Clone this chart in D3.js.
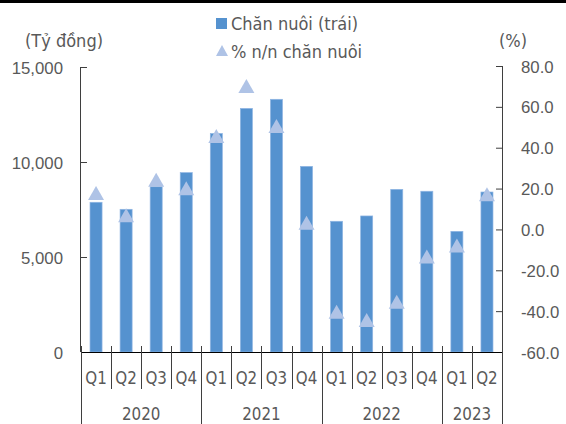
<!DOCTYPE html>
<html>
<head>
<meta charset="utf-8">
<script src="https://cdn.jsdelivr.net/npm/d3@7"></script>
<style>
  html, body { margin: 0; padding: 0; background: #fff; }
  svg { display: block; font-family: "DejaVu Sans Condensed", "DejaVu Sans", Verdana, sans-serif; font-stretch: condensed; }
</style>
</head>
<body>
<svg id="chart" width="566" height="424"></svg>
<script>
// Quarterly livestock revenue (billion VND) and year-on-year growth (%)
const quarters = ["Q1","Q2","Q3","Q4","Q1","Q2","Q3","Q4","Q1","Q2","Q3","Q4","Q1","Q2"];
const years = ["2020","2020","2020","2020","2021","2021","2021","2021","2022","2022","2022","2022","2023","2023"];
const revenue = [7880, 7510, 8700, 9440, 11500, 12820, 13300, 9770, 6880, 7160, 8560, 8460, 6350, 8420];
const growth = [17.8, 7.0, 24.3, 20.2, 45.7, 70.2, 50.6, 3.3, -40.3, -44.3, -35.4, -13.3, -7.9, 17.2];
const leftTicks = [0, 5000, 10000, 15000];
const rightTicks = [-60, -40, -20, 0, 20, 40, 60, 80];

const barColor = "#5592CF";
const markerColor = "#AFC3E6";
const textColor = "#595959";
const axisColor = "#3f3f3f";
const fs = "16.8px";      // numbers and category labels
const fsText = "18px";    // legend and unit captions

const svg = d3.select("#chart");
const W = 566, H = 424;
const plot = { left: 81, right: 502, top: 67, bottom: 352 };

// top frame line
svg.append("rect").attr("x", 0).attr("y", 0).attr("width", W).attr("height", 3).attr("fill", "#000");

const idx = d3.range(quarters.length);
const x = d3.scaleBand().domain(idx).range([plot.left, plot.right]).paddingInner(0.6).paddingOuter(0.3);
const step = (plot.right - plot.left) / quarters.length;
const yL = d3.scaleLinear().domain([0, 15000]).range([plot.bottom, plot.top]);
const yR = d3.scaleLinear().domain([-60, 80]).range([plot.bottom, plot.top - 1]);

// bars
svg.append("g").selectAll("rect").data(idx).join("rect")
  .attr("x", i => x(i))
  .attr("width", x.bandwidth())
  .attr("y", i => yL(revenue[i]))
  .attr("height", i => yL(0) - yL(revenue[i]))
  .attr("fill", barColor)
  .attr("stroke", "#8FB5E3")
  .attr("stroke-width", 0.7);

// triangle markers
const triW = 16, triH = 14;
const tri = (cx, cy) => `M${cx},${cy - triH / 2}L${cx + triW / 2},${cy + triH / 2}L${cx - triW / 2},${cy + triH / 2}Z`;
svg.append("g").selectAll("path").data(idx).join("path")
  .attr("d", i => tri(x(i) + x.bandwidth() / 2, yR(growth[i])))
  .attr("fill", markerColor);

// left axis
const leftAxis = d3.axisLeft(yL).tickValues(leftTicks).tickSize(-6).tickPadding(18)
  .tickFormat(d3.format(","));
const gL = svg.append("g").attr("transform", `translate(${plot.left},0)`).call(leftAxis);
gL.select(".domain").attr("stroke", axisColor).attr("d", `M-0.5,${plot.top}V${plot.bottom}`);
gL.selectAll(".tick line").attr("stroke", axisColor);
gL.selectAll(".tick text").attr("fill", textColor).style("font-size", fs)
  .attr("x", -18).attr("dy", "0.36em");

// right axis
const rightAxis = d3.axisRight(yR).tickValues(rightTicks).tickSize(-6).tickPadding(19)
  .tickFormat(d3.format(".1f"));
const gR = svg.append("g").attr("transform", `translate(${plot.right},0)`).call(rightAxis);
gR.select(".domain").attr("stroke", axisColor).attr("d", `M0.5,${yR(80)}V${plot.bottom}`);
gR.selectAll(".tick line").attr("stroke", axisColor);
gR.selectAll(".tick text").attr("fill", textColor).style("font-size", fs)
  .text(d => d3.format(".1f")(d).replace("−", "-")).attr("dy", "0.36em");

// bottom category axis
svg.append("line").attr("x1", plot.left).attr("x2", plot.right + 1)
  .attr("y1", plot.bottom + 0.5).attr("y2", plot.bottom + 0.5).attr("stroke", "#000");

const yearStarts = idx.filter(i => i === 0 || years[i] !== years[i - 1]);
const boundaries = d3.range(quarters.length + 1);
svg.append("g").selectAll("line").data(boundaries).join("line")
  .attr("x1", b => Math.round(plot.left + b * step) + 0.5)
  .attr("x2", b => Math.round(plot.left + b * step) + 0.5)
  .attr("y1", plot.bottom - 6)
  .attr("y2", b => (b === 0 || b === quarters.length || yearStarts.includes(b)) ? H : 389)
  .attr("stroke", axisColor);

svg.append("g").selectAll("text").data(idx).join("text")
  .attr("x", i => plot.left + (i + 0.5) * step)
  .attr("y", 378).attr("dy", "0.36em")
  .attr("text-anchor", "middle").attr("fill", textColor).style("font-size", fs)
  .text(i => quarters[i]);

const yearGroups = d3.groups(idx, i => years[i]);
svg.append("g").selectAll("text").data(yearGroups).join("text")
  .attr("x", d => plot.left + (d3.mean(d[1]) + 0.5) * step)
  .attr("y", 414).attr("dy", "0.36em")
  .attr("text-anchor", "middle").attr("fill", textColor).style("font-size", fs)
  .text(d => d[0]);

// axis captions
svg.append("text").attr("x", 64).attr("y", 41).attr("dy", "0.36em").attr("text-anchor", "middle")
  .attr("fill", textColor).style("font-size", fsText).text("(Tỷ đồng)");
svg.append("text").attr("x", 513).attr("y", 41).attr("dy", "0.36em").attr("text-anchor", "middle")
  .attr("fill", textColor).style("font-size", fsText).text("(%)");

// legend
const lg = svg.append("g");
lg.append("rect").attr("x", 216).attr("y", 18).attr("width", 11).attr("height", 11).attr("fill", barColor);
lg.append("text").attr("x", 231).attr("y", 24).attr("dy", "0.36em").attr("fill", textColor)
  .style("font-size", fsText).text("Chăn nuôi (trái)");
lg.append("path").attr("d", `M222,45L228,56L216,56Z`).attr("fill", markerColor);
lg.append("text").attr("x", 231).attr("y", 52).attr("dy", "0.36em").attr("fill", textColor)
  .style("font-size", fsText).text("% n/n chăn nuôi");
</script>
</body>
</html>
